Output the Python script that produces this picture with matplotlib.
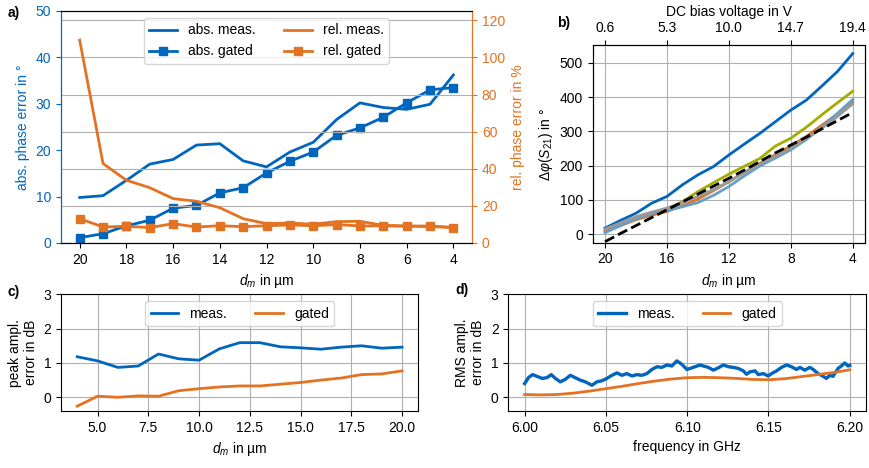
import numpy as np
import matplotlib
matplotlib.use("Agg")
import matplotlib.pyplot as plt

plt.rcParams['font.family'] = ['Liberation Sans', 'DejaVu Sans']
plt.rcParams['font.size'] = 10
plt.rcParams['mathtext.fontset'] = 'custom'
plt.rcParams['mathtext.rm'] = 'Liberation Sans'
plt.rcParams['mathtext.it'] = 'Liberation Sans:italic'
plt.rcParams['lines.linewidth'] = 2

blue = '#0065BD'
orange = '#E37222'
green = '#A2AD00'
lightblue = '#64A0C8'
gray = '#999999'

# a) phase error over electrode distance
d_m = [20, 19, 18, 17, 16, 15, 14, 13, 12, 11, 10, 9, 8, 7, 6, 5, 4]
abs_meas = [9.8, 10.2, 13.5, 17.0, 18.0, 21.1, 21.4, 17.7, 16.4, 19.6, 21.7, 26.6, 30.2, 29.2, 28.8, 29.9, 36.2]
abs_gated = [1.15, 2.0, 3.7, 4.9, 7.5, 8.1, 10.8, 11.9, 15.1, 17.6, 19.6, 23.2, 24.8, 27.1, 30.2, 33.0, 33.5]
rel_meas = [109.3, 42.8, 33.8, 29.8, 23.9, 22.5, 19.0, 13.1, 10.4, 10.8, 10.1, 11.5, 11.7, 9.5, 9.2, 8.8, 8.4]
rel_gated = [13.1, 8.6, 9.0, 8.3, 10.4, 8.6, 9.3, 8.8, 9.3, 9.7, 9.3, 9.9, 9.2, 9.2, 9.0, 9.2, 8.3]

# b) phase shift over electrode distance / bias voltage
bias_ticks = [20, 16, 12, 8, 4]
bias_labels = ['0.6', '5.3', '10.0', '14.7', '19.4']
dphi_blue = [17.5, 40, 61, 90, 110, 144, 173, 197, 231, 263, 294, 328, 362, 391, 432, 474, 527]
dphi_green = [10, 28, 45, 60, 73, 95, 124, 150, 175, 198, 221, 257, 280, 312, 348, 383, 417]
dphi_orange = [8, 25, 42, 55, 66, 83, 102, 127, 153, 180, 207, 232, 257, 285, 318, 350, 386]
dphi_lightblue = [4, 25, 45, 60, 69, 80, 92, 113, 139, 170, 199, 222, 246, 276, 312, 352, 393]
dphi_gray = [15, 33, 51, 64, 76, 92, 110, 130, 153, 180, 205, 228, 250, 279, 309, 343, 380]
dphi_fit = [-22, 2, 25, 48, 71, 94, 117, 140, 163, 187, 212, 237, 260, 283, 307, 331, 355]

# c) peak amplitude error
d_m_c = [4, 5, 6, 7, 8, 9, 10, 11, 12, 13, 14, 15, 16, 17, 18, 19, 20]
peak_meas = [1.18, 1.06, 0.87, 0.91, 1.26, 1.12, 1.08, 1.41, 1.59, 1.59, 1.47, 1.44, 1.40, 1.46, 1.50, 1.43, 1.46]
peak_gated = [-0.26, 0.03, 0.0, 0.04, 0.03, 0.19, 0.25, 0.30, 0.33, 0.33, 0.38, 0.43, 0.50, 0.56, 0.66, 0.68, 0.77]

# d) RMS amplitude error over frequency
f_meas = [6.0000, 6.0025, 6.0049, 6.0076, 6.0107, 6.0137, 6.0164, 6.0189, 6.0219, 6.0250,
          6.0281, 6.0311, 6.0342, 6.0373, 6.0414, 6.0445, 6.0475, 6.0506, 6.0537, 6.0568,
          6.0598, 6.0629, 6.0660, 6.0690, 6.0721, 6.0752, 6.0783, 6.0814, 6.0844, 6.0875,
          6.0906, 6.0936, 6.0967, 6.0998, 6.1018, 6.1048, 6.1079, 6.1100, 6.1130, 6.1161,
          6.1192, 6.1222, 6.1253, 6.1284, 6.1314, 6.1345, 6.1365, 6.1386, 6.1417, 6.1437,
          6.1468, 6.1498, 6.1519, 6.1550, 6.1580, 6.1611, 6.1641, 6.1672, 6.1693, 6.1723,
          6.1754, 6.1775, 6.1805, 6.1836, 6.1856, 6.1877, 6.1897, 6.1928, 6.1948, 6.1969,
          6.1989, 6.2000]
rms_meas = [0.40, 0.58, 0.66, 0.61, 0.55, 0.57, 0.66, 0.55, 0.45, 0.52,
            0.64, 0.57, 0.50, 0.45, 0.35, 0.45, 0.48, 0.55, 0.64, 0.71,
            0.64, 0.69, 0.62, 0.66, 0.64, 0.69, 0.81, 0.89, 0.87, 0.94,
            0.91, 1.06, 0.96, 0.81, 0.84, 0.89, 0.94, 0.91, 0.87, 0.79,
            0.86, 0.94, 0.89, 0.87, 0.84, 0.77, 0.67, 0.74, 0.77, 0.66,
            0.69, 0.62, 0.69, 0.77, 0.87, 0.94, 0.89, 0.81, 0.87, 0.79,
            0.87, 0.81, 0.69, 0.61, 0.55, 0.64, 0.61, 0.84, 0.91, 1.00,
            0.91, 0.93]
f_gated = [6.00, 6.01, 6.02, 6.03, 6.04, 6.05, 6.06, 6.07, 6.08, 6.09, 6.10,
           6.11, 6.12, 6.13, 6.14, 6.15, 6.16, 6.17, 6.18, 6.19, 6.20]
rms_gated = [0.08, 0.07, 0.08, 0.12, 0.18, 0.25, 0.32, 0.40, 0.47, 0.53, 0.57,
             0.58, 0.57, 0.55, 0.52, 0.51, 0.54, 0.60, 0.66, 0.72, 0.80]

fig = plt.figure(figsize=(8.69, 4.68), dpi=100)
ax_a = fig.add_axes([0.0702, 0.4808, 0.473, 0.4957])
ax_b = fig.add_axes([0.682, 0.4814, 0.3135, 0.4224])
ax_c = fig.add_axes([0.0702, 0.1218, 0.4112, 0.2494])
ax_d = fig.add_axes([0.585, 0.1218, 0.4116, 0.2494])

# --- a)
ax_a2 = ax_a.twinx()
l1, = ax_a.plot(d_m, abs_meas, color=blue, label='abs. meas.')
l2, = ax_a.plot(d_m, abs_gated, color=blue, marker='s', ms=6, label='abs. gated')
l3, = ax_a2.plot(d_m, rel_meas, color=orange, label='rel. meas.')
l4, = ax_a2.plot(d_m, rel_gated, color=orange, marker='s', ms=6, label='rel. gated')
ax_a.set_ylim(0, 50)
ax_a2.set_ylim(0, 125)
ax_a2.set_yticks([0, 20, 40, 60, 80, 100, 120])
ax_a.set_xticks([20, 18, 16, 14, 12, 10, 8, 6, 4])
ax_a.invert_xaxis()
ax_a2.grid(True, axis='y')
ax_a.set_ylabel('abs. phase error in °', color=blue)
ax_a2.set_ylabel('rel. phase error in %', color=orange)
ax_a.tick_params(axis='y', colors=blue)
ax_a2.tick_params(axis='y', colors=orange)
for ax in (ax_a, ax_a2):
    ax.spines['left'].set_color(blue)
    ax.spines['right'].set_color(orange)
ax_a.set_xlabel('$d_m$ in µm')
ax_a2.legend(handles=[l1, l2, l3, l4], ncol=2, loc='upper center')

# --- b)
ax_b.plot(d_m, dphi_blue, color=blue)
ax_b.plot(d_m, dphi_green, color=green)
ax_b.plot(d_m, dphi_orange, color=orange)
ax_b.plot(d_m, dphi_lightblue, color=lightblue)
ax_b.plot(d_m, dphi_gray, color=gray)
ax_b.plot(d_m, dphi_fit, color='black', ls='--')
ax_b.set_ylim(-25, 552)
ax_b.set_xticks(bias_ticks)
ax_b.invert_xaxis()
ax_b.grid(True)
ax_b.set_xlabel('$d_m$ in µm')
ax_b.set_ylabel(r'$\Delta\varphi(S_{21})$ in °')
ax_b.yaxis.set_label_coords(-0.14, 0.5)
ax_top = ax_b.twiny()
ax_top.set_xlim(ax_b.get_xlim())
ax_top.set_xticks(bias_ticks)
ax_top.set_xticklabels(bias_labels)
ax_top.set_xlabel('DC bias voltage in V')

# --- c)
ax_c.plot(d_m_c, peak_meas, color=blue, label='meas.')
ax_c.plot(d_m_c, peak_gated, color=orange, label='gated')
ax_c.set_ylim(-0.4, 3)
ax_c.set_yticks([0, 1, 2, 3])
ax_c.grid(True)
ax_c.set_xlabel('$d_m$ in µm')
ax_c.set_ylabel('peak ampl.\nerror in dB')
ax_c.legend(ncol=2, loc='upper center')

# --- d)
ax_d.plot(f_meas, rms_meas, color=blue, lw=2.4, label='meas.')
ax_d.plot(f_gated, rms_gated, color=orange, label='gated')
ax_d.set_ylim(-0.4, 3)
ax_d.set_yticks([0, 1, 2, 3])
ax_d.set_xticks([6.00, 6.05, 6.10, 6.15, 6.20])
ax_d.xaxis.set_major_formatter('{x:.2f}')
ax_d.grid(True)
ax_d.set_xlabel('frequency in GHz')
ax_d.set_ylabel('RMS ampl.\nerror in dB')
ax_d.legend(ncol=2, loc='upper center')

fig.text(0.009, 0.972, 'a)', weight='bold', va='center')
fig.text(0.641, 0.951, 'b)', weight='bold', va='center')
fig.text(0.009, 0.376, 'c)', weight='bold', va='center')
fig.text(0.524, 0.380, 'd)', weight='bold', va='center')

fig.savefig('out.png', dpi=100)
